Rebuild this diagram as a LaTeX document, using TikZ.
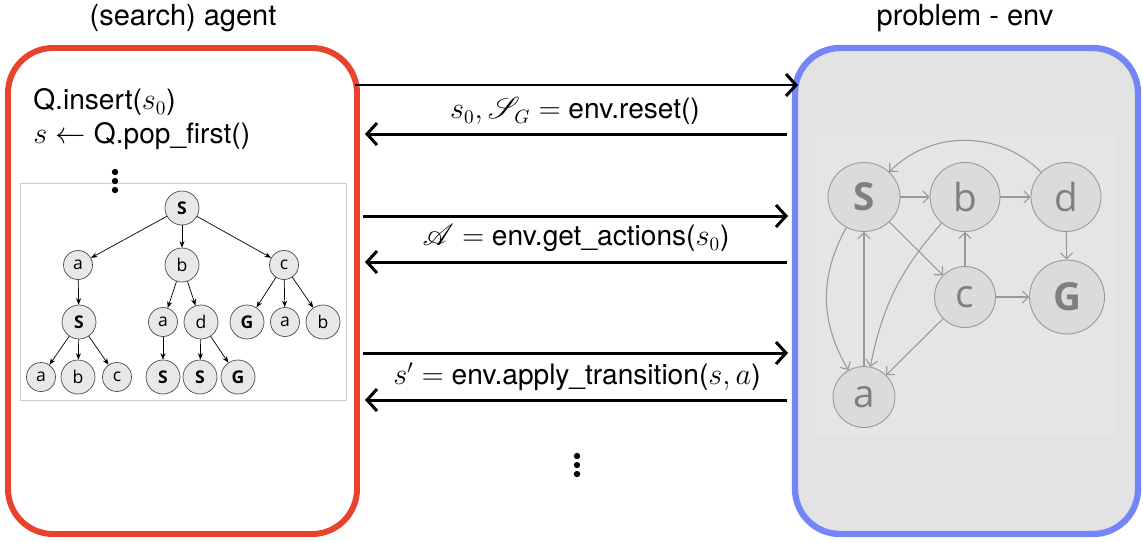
\documentclass[tikz,border=0pt]{standalone}
\usepackage{fontspec}
\setmainfont{TeX Gyre Heros}
\newfontfamily\graphfont{Open Sans}
\usepackage{mathrsfs}
\usetikzlibrary{arrows.meta, shapes.geometric, calc}

\definecolor{agentred}{HTML}{E8432D}
\definecolor{envblue}{HTML}{7486F7}
\definecolor{envgray}{HTML}{E3E3E3}
\definecolor{envinner}{HTML}{E5E5E5}
\definecolor{nodegray}{HTML}{DBDBDB}
\definecolor{edgegray}{HTML}{999999}
\definecolor{labelgray}{HTML}{7F7F7F}
\definecolor{treenode}{HTML}{E8E8E8}

\tikzset{
    agent-box/.style={draw=agentred, line width=3.4pt, rounded corners=0.9cm, fill=white},
    env-box/.style={draw=envblue, line width=3.6pt, rounded corners=0.9cm, fill=envgray},
    tree-box/.style={draw=black!20, line width=0.5pt, fill=white},
    title/.style={font=\fontsize{16.5}{20}\selectfont},
    code/.style={font=\fontsize{16}{19}\selectfont, inner sep=0pt},
    dot/.style={circle, fill=black, inner sep=0pt, minimum size=3.6pt},
    msg/.style={line width=1.7pt, -{Straight Barb[length=2mm,width=4.4mm]}},
    tnode/.style={circle, draw=black!70, line width=0.4pt, fill=treenode, inner sep=0pt,
        minimum size=0.58cm, font=\graphfont\fontsize{10}{12}\selectfont},
    tbig/.style={tnode, minimum size=0.68cm},
    tedge/.style={line width=0.4pt, -{Stealth[length=1.3mm,width=1mm]}},
    gnode/.style={ellipse, draw=edgegray, line width=0.5pt, fill=nodegray, text=labelgray,
        inner sep=0pt, font=\graphfont\fontsize{22}{24}\selectfont},
    gedge/.style={draw=edgegray, line width=0.6pt, -{Straight Barb[length=1.2mm,width=2.4mm]}},
}

\begin{document}
\begin{tikzpicture}[x=0.02cm, y=-0.02cm]
        \useasboundingbox (0,0) rectangle (1143,542);

        % BOXES
        \draw[agent-box] (8,48) rectangle (357,534);
        \draw[env-box]   (795,48) rectangle (1138,534);
        \fill[envinner]  (810,130) rectangle (1116,436);

        % TITLES
        \node[title] (agenttitle) at (183,18) {(search) agent};
        \node[title] (envtitle)   at (965,18) {problem - env};

        % AGENT LOOP
        \node[code, anchor=west] (insert) at (33,102) {Q.insert($s_0$)};
        \node[code, anchor=west] (pop)    at (33,136) {$s \leftarrow$ Q.pop\_first()};

        % SEARCH TREE
        \draw[tree-box] (20,183) rectangle (346,400);
        \foreach \y in {172,181,190}
            \node[dot] (agentdot\y) at (115,\y) {};
        \node[tbig]  (T)     at (182,208) {\textbf{S}};
        \node[tnode] (Ta)    at (78,265)  {a};
        \node[tbig]  (Tb)    at (182,265) {b};
        \node[tnode] (Tc)    at (284,265) {c};
        \node[tbig]  (TaS)   at (79,322)  {\textbf{S}};
        \node[tnode] (Tba)   at (163,322) {a};
        \node[tbig]  (Tbd)   at (201,322) {d};
        \node[tbig]  (TcG)   at (247,322) {\textbf{G}};
        \node[tnode] (Tca)   at (285,322) {a};
        \node[tbig]  (Tcb)   at (323,322) {b};
        \node[tnode] (TaSa)  at (41,377)  {a};
        \node[tbig]  (TaSb)  at (78,377)  {b};
        \node[tnode] (TaSc)  at (117,377) {c};
        \node[tbig]  (TbaS)  at (163,377) {\textbf{S}};
        \node[tbig]  (TbdS)  at (200,377) {\textbf{S}};
        \node[tbig]  (TbdG)  at (238,377) {\textbf{G}};
        \foreach \p/\c in {T/Ta, T/Tb, T/Tc, Ta/TaS, TaS/TaSa, TaS/TaSb, TaS/TaSc,
                           Tb/Tba, Tb/Tbd, Tba/TbaS, Tbd/TbdS, Tbd/TbdG,
                           Tc/TcG, Tc/Tca, Tc/Tcb}
            \draw[tedge] (\p) -- (\c);

        % MESSAGES, CONNECTOR POINTS
        \coordinate (M1s) at (355,85);  \coordinate (M1e) at (798,85);
        \coordinate (R1s) at (787,134); \coordinate (R1e) at (365,134);
        \coordinate (M2s) at (363,216); \coordinate (M2e) at (788,216);
        \coordinate (R2s) at (787,262); \coordinate (R2e) at (365,262);
        \coordinate (M3s) at (363,353); \coordinate (M3e) at (788,353);
        \coordinate (R3s) at (787,400); \coordinate (R3e) at (365,400);
        \draw[msg] (M1s) -- (M1e);
        \draw[msg] (R1s) -- (R1e);
        \draw[msg] (M2s) -- (M2e);
        \draw[msg] (R2s) -- (R2e);
        \draw[msg] (M3s) -- (M3e);
        \draw[msg] (R3s) -- (R3e);
        \node[code] (reset)   at (575,111) {$s_0, \mathscr{S}_G =$ env.reset()};
        \node[code] (actions) at (576,238) {$\mathscr{A} =$ env.get\_actions($s_0$)};
        \node[code] (apply)   at (577,377) {$s' =$ env.apply\_transition($s, a$)};
        \foreach \y in {456,465,474}
            \node[dot] (msgdot\y) at (577,\y) {};

        % PROBLEM GRAPH
        \node[gnode, minimum width=1.44cm, minimum height=1.38cm] (gS) at (864,197)  {\textbf{S}};
        \node[gnode, minimum width=1.4cm,  minimum height=1.38cm] (gb) at (965,197)  {b};
        \node[gnode, minimum width=1.4cm,  minimum height=1.38cm] (gd) at (1066,197) {d};
        \node[gnode, minimum width=1.22cm, minimum height=1.22cm] (gc) at (965,297)  {c};
        \node[gnode, minimum width=1.5cm,  minimum height=1.48cm] (gG) at (1067,297) {\textbf{G}};
        \node[gnode, minimum width=1.24cm, minimum height=1.22cm] (ga) at (864,397)  {a};
        \draw[gedge] (gS) -- (gb);
        \draw[gedge] (gb) -- (gd);
        \draw[gedge] (gd) -- (gG);
        \draw[gedge] (gc) -- (gG);
        \draw[gedge] (gc) -- (gb);
        \draw[gedge] (gS) -- (gc);
        \draw[gedge] (gc) -- (ga);
        \draw[gedge] (ga) -- (gS);
        \draw[gedge] (gS) to[bend right=30] (ga);
        \draw[gedge] (gb) to[bend right=15] (ga);
        \draw[gedge] (gd) to[bend right=45] (gS);

\end{tikzpicture}
\end{document}
